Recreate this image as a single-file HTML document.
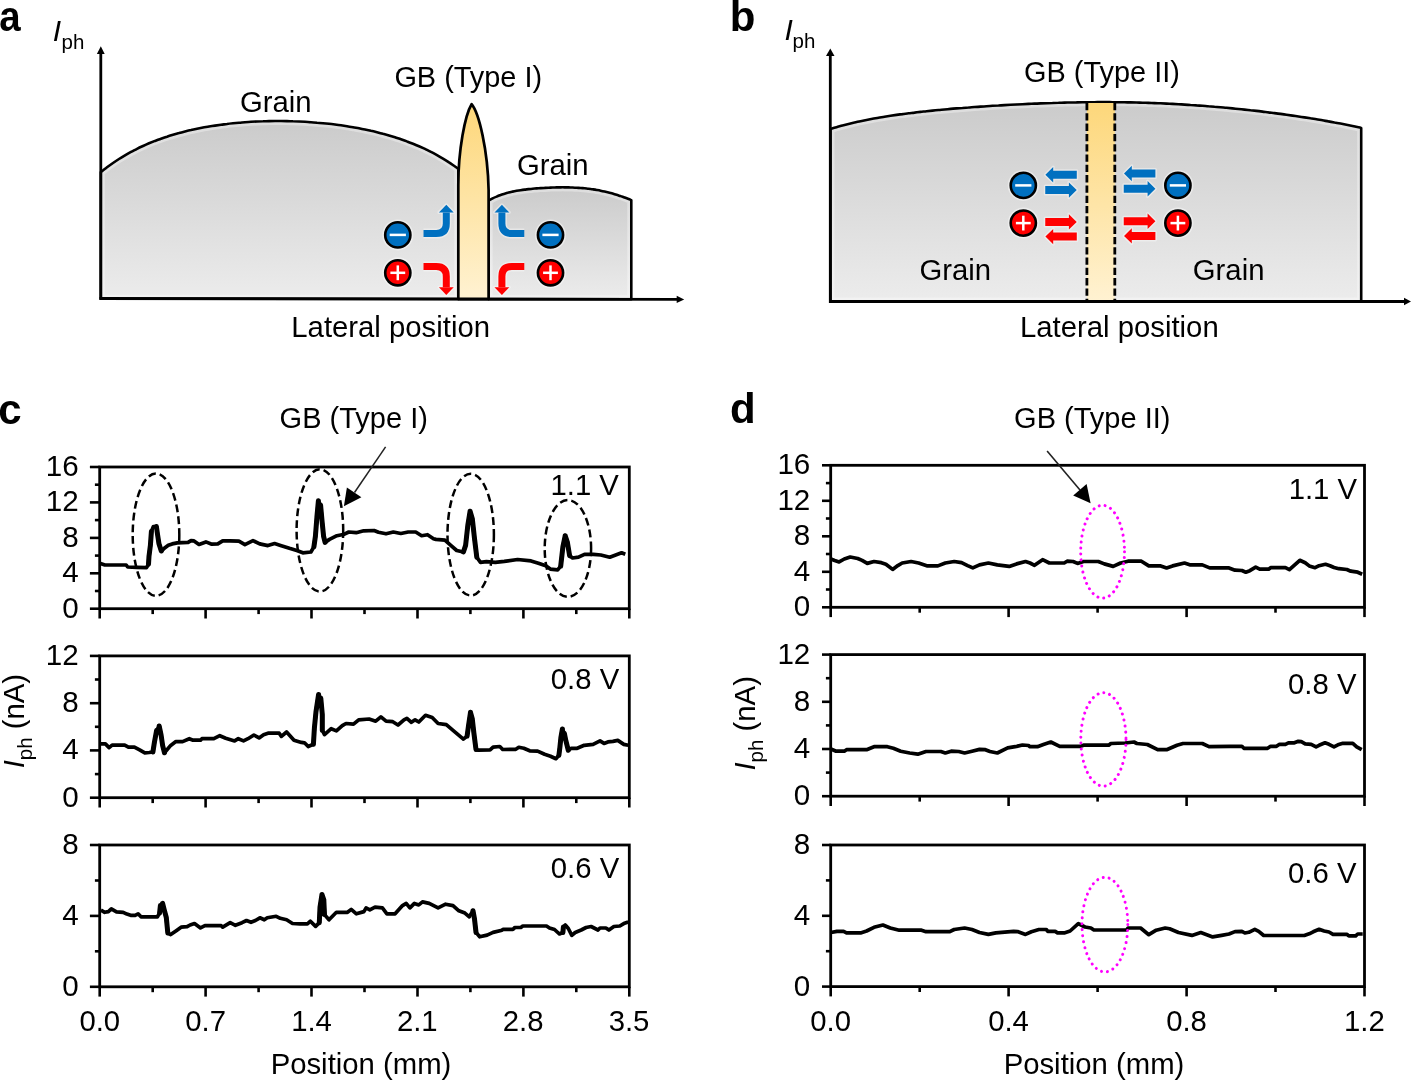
<!DOCTYPE html><html><head><meta charset="utf-8"><style>html,body{margin:0;padding:0;background:#fff;}svg{display:block;will-change:transform;}</style></head><body><svg width="1414" height="1080" viewBox="0 0 1414 1080">
<defs>
<linearGradient id="gg" x1="0" y1="0" x2="0" y2="1"><stop offset="0" stop-color="#cbcbcb"/><stop offset="1" stop-color="#ececec"/></linearGradient>
<linearGradient id="gy" x1="0" y1="0" x2="0" y2="1"><stop offset="0" stop-color="#fdd77a"/><stop offset="1" stop-color="#fff2d2"/></linearGradient>
</defs>
<rect width="1414" height="1080" fill="#fff"/>
<path d="M100.8,298.50 L100.8,172.1 C102.0,171.3 105.0,168.8 107.0,167.3 C109.0,165.8 111.0,164.4 113.0,163.0 C115.0,161.6 117.0,160.3 119.0,159.0 C121.0,157.7 123.0,156.5 125.0,155.3 C127.0,154.1 129.0,153.0 131.0,151.9 C133.0,150.9 135.0,149.8 137.0,148.8 C139.0,147.8 141.0,146.9 143.0,146.0 C145.0,145.1 147.0,144.2 149.0,143.3 C151.0,142.5 153.0,141.7 155.0,140.9 C157.0,140.2 159.0,139.4 161.0,138.7 C163.0,138.0 165.0,137.3 167.0,136.7 C169.0,136.0 171.0,135.4 173.0,134.8 C175.0,134.2 177.0,133.6 179.0,133.1 C181.0,132.5 183.0,132.0 185.0,131.5 C187.0,131.0 189.0,130.5 191.0,130.1 C193.0,129.6 195.0,129.2 197.0,128.8 C199.0,128.4 201.0,128.0 203.0,127.6 C205.0,127.2 207.0,126.9 209.0,126.5 C211.0,126.2 213.0,125.9 215.0,125.6 C217.0,125.3 219.0,125.0 221.0,124.7 C223.0,124.5 225.0,124.2 227.0,124.0 C229.0,123.7 231.0,123.5 233.0,123.3 C235.0,123.1 237.0,122.9 239.0,122.7 C241.0,122.5 243.0,122.4 245.0,122.2 C247.0,122.1 249.0,122.0 251.0,121.8 C253.0,121.7 255.0,121.6 257.0,121.5 C259.0,121.4 261.0,121.3 263.0,121.3 C265.0,121.2 267.0,121.2 269.0,121.1 C271.0,121.1 273.0,121.1 275.0,121.0 C277.0,121.0 279.0,121.0 281.0,121.0 C283.0,121.1 285.0,121.1 287.0,121.1 C289.0,121.2 291.0,121.2 293.0,121.3 C295.0,121.3 297.0,121.4 299.0,121.5 C301.0,121.6 303.0,121.7 305.0,121.8 C307.0,121.9 309.0,122.1 311.0,122.2 C313.0,122.3 315.0,122.5 317.0,122.7 C319.0,122.8 321.0,123.0 323.0,123.2 C325.0,123.4 327.0,123.6 329.0,123.8 C331.0,124.1 333.0,124.3 335.0,124.5 C337.0,124.8 339.0,125.1 341.0,125.3 C343.0,125.6 345.0,125.9 347.0,126.2 C349.0,126.6 351.0,126.9 353.0,127.2 C355.0,127.6 357.0,127.9 359.0,128.3 C361.0,128.7 363.0,129.1 365.0,129.5 C367.0,129.9 369.0,130.3 371.0,130.8 C373.0,131.2 375.0,131.7 377.0,132.2 C379.0,132.7 381.0,133.2 383.0,133.8 C385.0,134.3 387.0,134.8 389.0,135.4 C391.0,136.0 393.0,136.6 395.0,137.2 C397.0,137.9 399.0,138.5 401.0,139.2 C403.0,139.9 405.0,140.6 407.0,141.4 C409.0,142.1 411.0,142.9 413.0,143.7 C415.0,144.5 417.0,145.3 419.0,146.2 C421.0,147.1 423.0,148.0 425.0,148.9 C427.0,149.9 429.0,150.8 431.0,151.9 C433.0,152.9 435.0,154.0 437.0,155.1 C439.0,156.2 441.0,157.4 443.0,158.6 C445.0,159.8 447.0,161.0 449.0,162.4 C451.0,163.7 453.4,165.4 455.0,166.5 C456.6,167.6 457.8,168.5 458.3,168.9 L458.3,299.06 Z" fill="url(#gg)"/>
<path d="M100.8,298.50 L100.8,172.1 C102.0,171.3 105.0,168.8 107.0,167.3 C109.0,165.8 111.0,164.4 113.0,163.0 C115.0,161.6 117.0,160.3 119.0,159.0 C121.0,157.7 123.0,156.5 125.0,155.3 C127.0,154.1 129.0,153.0 131.0,151.9 C133.0,150.9 135.0,149.8 137.0,148.8 C139.0,147.8 141.0,146.9 143.0,146.0 C145.0,145.1 147.0,144.2 149.0,143.3 C151.0,142.5 153.0,141.7 155.0,140.9 C157.0,140.2 159.0,139.4 161.0,138.7 C163.0,138.0 165.0,137.3 167.0,136.7 C169.0,136.0 171.0,135.4 173.0,134.8 C175.0,134.2 177.0,133.6 179.0,133.1 C181.0,132.5 183.0,132.0 185.0,131.5 C187.0,131.0 189.0,130.5 191.0,130.1 C193.0,129.6 195.0,129.2 197.0,128.8 C199.0,128.4 201.0,128.0 203.0,127.6 C205.0,127.2 207.0,126.9 209.0,126.5 C211.0,126.2 213.0,125.9 215.0,125.6 C217.0,125.3 219.0,125.0 221.0,124.7 C223.0,124.5 225.0,124.2 227.0,124.0 C229.0,123.7 231.0,123.5 233.0,123.3 C235.0,123.1 237.0,122.9 239.0,122.7 C241.0,122.5 243.0,122.4 245.0,122.2 C247.0,122.1 249.0,122.0 251.0,121.8 C253.0,121.7 255.0,121.6 257.0,121.5 C259.0,121.4 261.0,121.3 263.0,121.3 C265.0,121.2 267.0,121.2 269.0,121.1 C271.0,121.1 273.0,121.1 275.0,121.0 C277.0,121.0 279.0,121.0 281.0,121.0 C283.0,121.1 285.0,121.1 287.0,121.1 C289.0,121.2 291.0,121.2 293.0,121.3 C295.0,121.3 297.0,121.4 299.0,121.5 C301.0,121.6 303.0,121.7 305.0,121.8 C307.0,121.9 309.0,122.1 311.0,122.2 C313.0,122.3 315.0,122.5 317.0,122.7 C319.0,122.8 321.0,123.0 323.0,123.2 C325.0,123.4 327.0,123.6 329.0,123.8 C331.0,124.1 333.0,124.3 335.0,124.5 C337.0,124.8 339.0,125.1 341.0,125.3 C343.0,125.6 345.0,125.9 347.0,126.2 C349.0,126.6 351.0,126.9 353.0,127.2 C355.0,127.6 357.0,127.9 359.0,128.3 C361.0,128.7 363.0,129.1 365.0,129.5 C367.0,129.9 369.0,130.3 371.0,130.8 C373.0,131.2 375.0,131.7 377.0,132.2 C379.0,132.7 381.0,133.2 383.0,133.8 C385.0,134.3 387.0,134.8 389.0,135.4 C391.0,136.0 393.0,136.6 395.0,137.2 C397.0,137.9 399.0,138.5 401.0,139.2 C403.0,139.9 405.0,140.6 407.0,141.4 C409.0,142.1 411.0,142.9 413.0,143.7 C415.0,144.5 417.0,145.3 419.0,146.2 C421.0,147.1 423.0,148.0 425.0,148.9 C427.0,149.9 429.0,150.8 431.0,151.9 C433.0,152.9 435.0,154.0 437.0,155.1 C439.0,156.2 441.0,157.4 443.0,158.6 C445.0,159.8 447.0,161.0 449.0,162.4 C451.0,163.7 453.4,165.4 455.0,166.5 C456.6,167.6 457.8,168.5 458.3,168.9 L458.3,299.06 Z" stroke="#fff" stroke-opacity="0.35" stroke-width="8" fill="none"/>
<path d="M100.8,298.50 L100.8,172.1 C102.0,171.3 105.0,168.8 107.0,167.3 C109.0,165.8 111.0,164.4 113.0,163.0 C115.0,161.6 117.0,160.3 119.0,159.0 C121.0,157.7 123.0,156.5 125.0,155.3 C127.0,154.1 129.0,153.0 131.0,151.9 C133.0,150.9 135.0,149.8 137.0,148.8 C139.0,147.8 141.0,146.9 143.0,146.0 C145.0,145.1 147.0,144.2 149.0,143.3 C151.0,142.5 153.0,141.7 155.0,140.9 C157.0,140.2 159.0,139.4 161.0,138.7 C163.0,138.0 165.0,137.3 167.0,136.7 C169.0,136.0 171.0,135.4 173.0,134.8 C175.0,134.2 177.0,133.6 179.0,133.1 C181.0,132.5 183.0,132.0 185.0,131.5 C187.0,131.0 189.0,130.5 191.0,130.1 C193.0,129.6 195.0,129.2 197.0,128.8 C199.0,128.4 201.0,128.0 203.0,127.6 C205.0,127.2 207.0,126.9 209.0,126.5 C211.0,126.2 213.0,125.9 215.0,125.6 C217.0,125.3 219.0,125.0 221.0,124.7 C223.0,124.5 225.0,124.2 227.0,124.0 C229.0,123.7 231.0,123.5 233.0,123.3 C235.0,123.1 237.0,122.9 239.0,122.7 C241.0,122.5 243.0,122.4 245.0,122.2 C247.0,122.1 249.0,122.0 251.0,121.8 C253.0,121.7 255.0,121.6 257.0,121.5 C259.0,121.4 261.0,121.3 263.0,121.3 C265.0,121.2 267.0,121.2 269.0,121.1 C271.0,121.1 273.0,121.1 275.0,121.0 C277.0,121.0 279.0,121.0 281.0,121.0 C283.0,121.1 285.0,121.1 287.0,121.1 C289.0,121.2 291.0,121.2 293.0,121.3 C295.0,121.3 297.0,121.4 299.0,121.5 C301.0,121.6 303.0,121.7 305.0,121.8 C307.0,121.9 309.0,122.1 311.0,122.2 C313.0,122.3 315.0,122.5 317.0,122.7 C319.0,122.8 321.0,123.0 323.0,123.2 C325.0,123.4 327.0,123.6 329.0,123.8 C331.0,124.1 333.0,124.3 335.0,124.5 C337.0,124.8 339.0,125.1 341.0,125.3 C343.0,125.6 345.0,125.9 347.0,126.2 C349.0,126.6 351.0,126.9 353.0,127.2 C355.0,127.6 357.0,127.9 359.0,128.3 C361.0,128.7 363.0,129.1 365.0,129.5 C367.0,129.9 369.0,130.3 371.0,130.8 C373.0,131.2 375.0,131.7 377.0,132.2 C379.0,132.7 381.0,133.2 383.0,133.8 C385.0,134.3 387.0,134.8 389.0,135.4 C391.0,136.0 393.0,136.6 395.0,137.2 C397.0,137.9 399.0,138.5 401.0,139.2 C403.0,139.9 405.0,140.6 407.0,141.4 C409.0,142.1 411.0,142.9 413.0,143.7 C415.0,144.5 417.0,145.3 419.0,146.2 C421.0,147.1 423.0,148.0 425.0,148.9 C427.0,149.9 429.0,150.8 431.0,151.9 C433.0,152.9 435.0,154.0 437.0,155.1 C439.0,156.2 441.0,157.4 443.0,158.6 C445.0,159.8 447.0,161.0 449.0,162.4 C451.0,163.7 453.4,165.4 455.0,166.5 C456.6,167.6 457.8,168.5 458.3,168.9 L458.3,299.06 Z" fill="none" stroke="#000" stroke-width="2.6" stroke-linejoin="round"/>
<path d="M488.6,299.10 L488.6,200.6 C489.3,200.2 491.3,199.1 492.6,198.4 C493.9,197.7 495.3,197.1 496.6,196.6 C497.9,196.0 499.3,195.5 500.6,195.0 C501.9,194.5 503.3,194.1 504.6,193.7 C505.9,193.3 507.3,192.9 508.6,192.6 C509.9,192.2 511.3,191.9 512.6,191.6 C513.9,191.4 515.3,191.1 516.6,190.8 C517.9,190.6 519.3,190.4 520.6,190.2 C521.9,190.0 523.3,189.8 524.6,189.6 C525.9,189.4 527.3,189.3 528.6,189.1 C529.9,189.0 531.3,188.9 532.6,188.7 C533.9,188.6 535.3,188.5 536.6,188.4 C537.9,188.3 539.3,188.2 540.6,188.1 C541.9,188.0 543.3,187.9 544.6,187.9 C545.9,187.8 547.3,187.7 548.6,187.7 C549.9,187.6 551.3,187.6 552.6,187.5 C553.9,187.5 555.3,187.4 556.6,187.4 C557.9,187.4 559.3,187.4 560.6,187.4 C561.9,187.3 563.3,187.3 564.6,187.4 C565.9,187.4 567.3,187.4 568.6,187.4 C569.9,187.4 571.3,187.5 572.6,187.5 C573.9,187.6 575.3,187.7 576.6,187.7 C577.9,187.8 579.3,187.9 580.6,188.0 C581.9,188.1 583.3,188.2 584.6,188.3 C585.9,188.5 587.3,188.6 588.6,188.8 C589.9,189.0 591.3,189.1 592.6,189.3 C593.9,189.5 595.3,189.7 596.6,190.0 C597.9,190.2 599.3,190.4 600.6,190.7 C601.9,191.0 603.3,191.3 604.6,191.6 C605.9,191.9 607.3,192.2 608.6,192.5 C609.9,192.9 611.3,193.2 612.6,193.6 C613.9,194.0 615.3,194.4 616.6,194.8 C617.9,195.2 619.3,195.7 620.6,196.1 C621.9,196.6 623.3,197.0 624.6,197.5 C625.9,198.0 627.5,198.6 628.6,199.0 C629.7,199.4 630.8,199.9 631.3,200.1 L631.3,299.32 Z" fill="url(#gg)"/>
<path d="M488.6,299.10 L488.6,200.6 C489.3,200.2 491.3,199.1 492.6,198.4 C493.9,197.7 495.3,197.1 496.6,196.6 C497.9,196.0 499.3,195.5 500.6,195.0 C501.9,194.5 503.3,194.1 504.6,193.7 C505.9,193.3 507.3,192.9 508.6,192.6 C509.9,192.2 511.3,191.9 512.6,191.6 C513.9,191.4 515.3,191.1 516.6,190.8 C517.9,190.6 519.3,190.4 520.6,190.2 C521.9,190.0 523.3,189.8 524.6,189.6 C525.9,189.4 527.3,189.3 528.6,189.1 C529.9,189.0 531.3,188.9 532.6,188.7 C533.9,188.6 535.3,188.5 536.6,188.4 C537.9,188.3 539.3,188.2 540.6,188.1 C541.9,188.0 543.3,187.9 544.6,187.9 C545.9,187.8 547.3,187.7 548.6,187.7 C549.9,187.6 551.3,187.6 552.6,187.5 C553.9,187.5 555.3,187.4 556.6,187.4 C557.9,187.4 559.3,187.4 560.6,187.4 C561.9,187.3 563.3,187.3 564.6,187.4 C565.9,187.4 567.3,187.4 568.6,187.4 C569.9,187.4 571.3,187.5 572.6,187.5 C573.9,187.6 575.3,187.7 576.6,187.7 C577.9,187.8 579.3,187.9 580.6,188.0 C581.9,188.1 583.3,188.2 584.6,188.3 C585.9,188.5 587.3,188.6 588.6,188.8 C589.9,189.0 591.3,189.1 592.6,189.3 C593.9,189.5 595.3,189.7 596.6,190.0 C597.9,190.2 599.3,190.4 600.6,190.7 C601.9,191.0 603.3,191.3 604.6,191.6 C605.9,191.9 607.3,192.2 608.6,192.5 C609.9,192.9 611.3,193.2 612.6,193.6 C613.9,194.0 615.3,194.4 616.6,194.8 C617.9,195.2 619.3,195.7 620.6,196.1 C621.9,196.6 623.3,197.0 624.6,197.5 C625.9,198.0 627.5,198.6 628.6,199.0 C629.7,199.4 630.8,199.9 631.3,200.1 L631.3,299.32 Z" stroke="#fff" stroke-opacity="0.35" stroke-width="8" fill="none"/>
<path d="M488.6,299.10 L488.6,200.6 C489.3,200.2 491.3,199.1 492.6,198.4 C493.9,197.7 495.3,197.1 496.6,196.6 C497.9,196.0 499.3,195.5 500.6,195.0 C501.9,194.5 503.3,194.1 504.6,193.7 C505.9,193.3 507.3,192.9 508.6,192.6 C509.9,192.2 511.3,191.9 512.6,191.6 C513.9,191.4 515.3,191.1 516.6,190.8 C517.9,190.6 519.3,190.4 520.6,190.2 C521.9,190.0 523.3,189.8 524.6,189.6 C525.9,189.4 527.3,189.3 528.6,189.1 C529.9,189.0 531.3,188.9 532.6,188.7 C533.9,188.6 535.3,188.5 536.6,188.4 C537.9,188.3 539.3,188.2 540.6,188.1 C541.9,188.0 543.3,187.9 544.6,187.9 C545.9,187.8 547.3,187.7 548.6,187.7 C549.9,187.6 551.3,187.6 552.6,187.5 C553.9,187.5 555.3,187.4 556.6,187.4 C557.9,187.4 559.3,187.4 560.6,187.4 C561.9,187.3 563.3,187.3 564.6,187.4 C565.9,187.4 567.3,187.4 568.6,187.4 C569.9,187.4 571.3,187.5 572.6,187.5 C573.9,187.6 575.3,187.7 576.6,187.7 C577.9,187.8 579.3,187.9 580.6,188.0 C581.9,188.1 583.3,188.2 584.6,188.3 C585.9,188.5 587.3,188.6 588.6,188.8 C589.9,189.0 591.3,189.1 592.6,189.3 C593.9,189.5 595.3,189.7 596.6,190.0 C597.9,190.2 599.3,190.4 600.6,190.7 C601.9,191.0 603.3,191.3 604.6,191.6 C605.9,191.9 607.3,192.2 608.6,192.5 C609.9,192.9 611.3,193.2 612.6,193.6 C613.9,194.0 615.3,194.4 616.6,194.8 C617.9,195.2 619.3,195.7 620.6,196.1 C621.9,196.6 623.3,197.0 624.6,197.5 C625.9,198.0 627.5,198.6 628.6,199.0 C629.7,199.4 630.8,199.9 631.3,200.1 L631.3,299.32 Z" fill="none" stroke="#000" stroke-width="2.6" stroke-linejoin="round"/>
<path d="M458.3,299.06 L458.3,185 C458.3,150 465,115 471.6,104.2 C479,113 487.8,150 488.6,190 L488.6,299.10 Z" fill="url(#gy)" stroke="#000" stroke-width="2.7" stroke-linejoin="round"/>
<line x1="100.8" y1="299.80" x2="100.8" y2="52" stroke="#000" stroke-width="2.8"/>
<path d="M96.9,54 L100.8,46.3 L104.7,54 Z" fill="#000"/>
<line x1="99.5" y1="298.50" x2="678" y2="299.40" stroke="#000" stroke-width="2.8"/>
<path d="M676.7,295.69 L684.2,299.41 L676.7,303.09 Z" fill="#000"/>
<circle cx="397.8" cy="234.9" r="15.5" fill="#fff" fill-opacity="0.45"/>
<circle cx="397.8" cy="234.9" r="12.6" fill="#0070c0" stroke="#000" stroke-width="2.6"/>
<rect x="389.70" y="233.65" width="16.2" height="2.5" fill="#fff"/>
<circle cx="397.8" cy="272.8" r="15.5" fill="#fff" fill-opacity="0.45"/>
<circle cx="397.8" cy="272.8" r="12.6" fill="#ff0000" stroke="#000" stroke-width="2.6"/>
<rect x="390.40" y="271.55" width="14.8" height="2.5" fill="#fff"/>
<rect x="396.55" y="265.40" width="2.5" height="14.8" fill="#fff"/>
<circle cx="550.5" cy="234.9" r="15.5" fill="#fff" fill-opacity="0.45"/>
<circle cx="550.5" cy="234.9" r="12.6" fill="#0070c0" stroke="#000" stroke-width="2.6"/>
<rect x="542.40" y="233.65" width="16.2" height="2.5" fill="#fff"/>
<circle cx="550.5" cy="272.8" r="15.5" fill="#fff" fill-opacity="0.45"/>
<circle cx="550.5" cy="272.8" r="12.6" fill="#ff0000" stroke="#000" stroke-width="2.6"/>
<rect x="543.10" y="271.55" width="14.8" height="2.5" fill="#fff"/>
<rect x="549.25" y="265.40" width="2.5" height="14.8" fill="#fff"/>
<path d="M423.5,233.6 L436.3,233.6 Q446.3,233.6 446.3,223.6 L446.3,212.4" fill="none" stroke="#fff" stroke-opacity="0.4" stroke-width="10"/>
<path d="M438.90000000000003,212.4 L446.3,204.8 L453.7,212.4 Z" fill="#fff" fill-opacity="0.4" stroke="#fff" stroke-opacity="0.4" stroke-width="3" stroke-linejoin="round"/>
<path d="M423.5,233.6 L436.3,233.6 Q446.3,233.6 446.3,223.6 L446.3,212.4" fill="none" stroke="#0070c0" stroke-width="7"/>
<path d="M438.90000000000003,212.4 L446.3,204.8 L453.7,212.4 Z" fill="#0070c0"/>
<path d="M423.5,266.4 L436.3,266.4 Q446.3,266.4 446.3,276.4 L446.3,287.29999999999995" fill="none" stroke="#fff" stroke-opacity="0.4" stroke-width="10"/>
<path d="M438.90000000000003,287.29999999999995 L446.3,294.9 L453.7,287.29999999999995 Z" fill="#fff" fill-opacity="0.4" stroke="#fff" stroke-opacity="0.4" stroke-width="3" stroke-linejoin="round"/>
<path d="M423.5,266.4 L436.3,266.4 Q446.3,266.4 446.3,276.4 L446.3,287.29999999999995" fill="none" stroke="#ff0000" stroke-width="7"/>
<path d="M438.90000000000003,287.29999999999995 L446.3,294.9 L453.7,287.29999999999995 Z" fill="#ff0000"/>
<path d="M524.3,233.6 L511.9,233.6 Q501.9,233.6 501.9,223.6 L501.9,212.4" fill="none" stroke="#fff" stroke-opacity="0.4" stroke-width="10"/>
<path d="M494.5,212.4 L501.9,204.8 L509.29999999999995,212.4 Z" fill="#fff" fill-opacity="0.4" stroke="#fff" stroke-opacity="0.4" stroke-width="3" stroke-linejoin="round"/>
<path d="M524.3,233.6 L511.9,233.6 Q501.9,233.6 501.9,223.6 L501.9,212.4" fill="none" stroke="#0070c0" stroke-width="7"/>
<path d="M494.5,212.4 L501.9,204.8 L509.29999999999995,212.4 Z" fill="#0070c0"/>
<path d="M524.3,266.4 L511.9,266.4 Q501.9,266.4 501.9,276.4 L501.9,287.29999999999995" fill="none" stroke="#fff" stroke-opacity="0.4" stroke-width="10"/>
<path d="M494.5,287.29999999999995 L501.9,294.9 L509.29999999999995,287.29999999999995 Z" fill="#fff" fill-opacity="0.4" stroke="#fff" stroke-opacity="0.4" stroke-width="3" stroke-linejoin="round"/>
<path d="M524.3,266.4 L511.9,266.4 Q501.9,266.4 501.9,276.4 L501.9,287.29999999999995" fill="none" stroke="#ff0000" stroke-width="7"/>
<path d="M494.5,287.29999999999995 L501.9,294.9 L509.29999999999995,287.29999999999995 Z" fill="#ff0000"/>
<text transform="translate(-0.75,31) scale(0.915,1)" font-size="42" font-weight="bold" font-family="Liberation Sans, sans-serif">a</text>
<text x="52.7" y="41.2" font-size="30" font-style="italic" font-family="Liberation Sans, sans-serif">I</text>
<text x="61.5" y="49" font-size="20.5" font-family="Liberation Sans, sans-serif">ph</text>
<text x="240" y="112.2" font-size="29.3" font-family="Liberation Sans, sans-serif">Grain</text>
<text x="394.4" y="86.9" font-size="28.9" font-family="Liberation Sans, sans-serif">GB (Type I)</text>
<text x="517" y="175.3" font-size="29.3" font-family="Liberation Sans, sans-serif">Grain</text>
<text x="291.3" y="337.3" font-size="29.3" font-family="Liberation Sans, sans-serif">Lateral position</text>
<path d="M830.5,301.5 L830.5,129.0 C831.5,128.7 834.5,127.8 836.5,127.2 C838.5,126.6 840.5,126.1 842.5,125.5 C844.5,125.0 846.5,124.5 848.5,124.0 C850.5,123.5 852.5,123.0 854.5,122.5 C856.5,122.1 858.5,121.6 860.5,121.2 C862.5,120.8 864.5,120.4 866.5,120.0 C868.5,119.6 870.5,119.2 872.5,118.8 C874.5,118.4 876.5,118.1 878.5,117.7 C880.5,117.4 882.5,117.0 884.5,116.7 C886.5,116.4 888.5,116.1 890.5,115.8 C892.5,115.5 894.5,115.2 896.5,114.9 C898.5,114.6 900.5,114.3 902.5,114.1 C904.5,113.8 906.5,113.6 908.5,113.3 C910.5,113.1 912.5,112.8 914.5,112.6 C916.5,112.3 918.5,112.1 920.5,111.9 C922.5,111.7 924.5,111.4 926.5,111.2 C928.5,111.0 930.5,110.8 932.5,110.6 C934.5,110.4 936.5,110.2 938.5,110.0 C940.5,109.8 942.5,109.7 944.5,109.5 C946.5,109.3 948.5,109.1 950.5,108.9 C952.5,108.8 954.5,108.6 956.5,108.4 C958.5,108.3 960.5,108.1 962.5,108.0 C964.5,107.8 966.5,107.6 968.5,107.5 C970.5,107.3 972.5,107.2 974.5,107.0 C976.5,106.9 978.5,106.8 980.5,106.6 C982.5,106.5 984.5,106.4 986.5,106.2 C988.5,106.1 990.5,106.0 992.5,105.8 C994.5,105.7 996.5,105.6 998.5,105.5 C1000.5,105.3 1002.5,105.2 1004.5,105.1 C1006.5,105.0 1008.5,104.9 1010.5,104.8 C1012.5,104.7 1014.5,104.6 1016.5,104.5 C1018.5,104.4 1020.5,104.3 1022.5,104.2 C1024.5,104.1 1026.5,104.0 1028.5,103.9 C1030.5,103.8 1032.5,103.7 1034.5,103.6 C1036.5,103.6 1038.5,103.5 1040.5,103.4 C1042.5,103.3 1044.5,103.2 1046.5,103.2 C1048.5,103.1 1050.5,103.0 1052.5,103.0 C1054.5,102.9 1056.5,102.8 1058.5,102.8 C1060.5,102.7 1062.5,102.7 1064.5,102.6 C1066.5,102.6 1068.5,102.5 1070.5,102.5 C1072.5,102.4 1074.5,102.4 1076.5,102.4 C1078.5,102.3 1080.5,102.3 1082.5,102.3 C1084.5,102.3 1086.5,102.2 1088.5,102.2 C1090.5,102.2 1092.5,102.2 1094.5,102.2 C1096.5,102.2 1098.5,102.1 1100.5,102.1 C1102.5,102.1 1104.5,102.1 1106.5,102.1 C1108.5,102.1 1110.5,102.2 1112.5,102.2 C1114.5,102.2 1116.5,102.2 1118.5,102.2 C1120.5,102.2 1122.5,102.3 1124.5,102.3 C1126.5,102.3 1128.5,102.4 1130.5,102.4 C1132.5,102.5 1134.5,102.5 1136.5,102.5 C1138.5,102.6 1140.5,102.6 1142.5,102.7 C1144.5,102.8 1146.5,102.8 1148.5,102.9 C1150.5,103.0 1152.5,103.0 1154.5,103.1 C1156.5,103.2 1158.5,103.3 1160.5,103.3 C1162.5,103.4 1164.5,103.5 1166.5,103.6 C1168.5,103.7 1170.5,103.8 1172.5,103.9 C1174.5,104.0 1176.5,104.1 1178.5,104.2 C1180.5,104.3 1182.5,104.5 1184.5,104.6 C1186.5,104.7 1188.5,104.8 1190.5,105.0 C1192.5,105.1 1194.5,105.2 1196.5,105.4 C1198.5,105.5 1200.5,105.7 1202.5,105.8 C1204.5,106.0 1206.5,106.1 1208.5,106.3 C1210.5,106.4 1212.5,106.6 1214.5,106.8 C1216.5,106.9 1218.5,107.1 1220.5,107.3 C1222.5,107.5 1224.5,107.6 1226.5,107.8 C1228.5,108.0 1230.5,108.2 1232.5,108.4 C1234.5,108.6 1236.5,108.8 1238.5,109.0 C1240.5,109.2 1242.5,109.4 1244.5,109.6 C1246.5,109.8 1248.5,110.0 1250.5,110.3 C1252.5,110.5 1254.5,110.7 1256.5,110.9 C1258.5,111.2 1260.5,111.4 1262.5,111.6 C1264.5,111.9 1266.5,112.1 1268.5,112.4 C1270.5,112.6 1272.5,112.9 1274.5,113.1 C1276.5,113.4 1278.5,113.7 1280.5,113.9 C1282.5,114.2 1284.5,114.5 1286.5,114.7 C1288.5,115.0 1290.5,115.3 1292.5,115.6 C1294.5,115.9 1296.5,116.2 1298.5,116.5 C1300.5,116.8 1302.5,117.1 1304.5,117.4 C1306.5,117.7 1308.5,118.0 1310.5,118.3 C1312.5,118.6 1314.5,119.0 1316.5,119.3 C1318.5,119.6 1320.5,120.0 1322.5,120.3 C1324.5,120.7 1326.5,121.0 1328.5,121.4 C1330.5,121.7 1332.5,122.1 1334.5,122.5 C1336.5,122.8 1338.5,123.2 1340.5,123.6 C1342.5,124.0 1344.5,124.4 1346.5,124.8 C1348.5,125.2 1350.5,125.6 1352.5,126.0 C1354.5,126.5 1357.0,127.0 1358.5,127.3 C1360.0,127.6 1360.8,127.8 1361.2,127.9 L1361.2,301.5 Z" fill="url(#gg)"/>
<path d="M830.5,301.5 L830.5,129.0 C831.5,128.7 834.5,127.8 836.5,127.2 C838.5,126.6 840.5,126.1 842.5,125.5 C844.5,125.0 846.5,124.5 848.5,124.0 C850.5,123.5 852.5,123.0 854.5,122.5 C856.5,122.1 858.5,121.6 860.5,121.2 C862.5,120.8 864.5,120.4 866.5,120.0 C868.5,119.6 870.5,119.2 872.5,118.8 C874.5,118.4 876.5,118.1 878.5,117.7 C880.5,117.4 882.5,117.0 884.5,116.7 C886.5,116.4 888.5,116.1 890.5,115.8 C892.5,115.5 894.5,115.2 896.5,114.9 C898.5,114.6 900.5,114.3 902.5,114.1 C904.5,113.8 906.5,113.6 908.5,113.3 C910.5,113.1 912.5,112.8 914.5,112.6 C916.5,112.3 918.5,112.1 920.5,111.9 C922.5,111.7 924.5,111.4 926.5,111.2 C928.5,111.0 930.5,110.8 932.5,110.6 C934.5,110.4 936.5,110.2 938.5,110.0 C940.5,109.8 942.5,109.7 944.5,109.5 C946.5,109.3 948.5,109.1 950.5,108.9 C952.5,108.8 954.5,108.6 956.5,108.4 C958.5,108.3 960.5,108.1 962.5,108.0 C964.5,107.8 966.5,107.6 968.5,107.5 C970.5,107.3 972.5,107.2 974.5,107.0 C976.5,106.9 978.5,106.8 980.5,106.6 C982.5,106.5 984.5,106.4 986.5,106.2 C988.5,106.1 990.5,106.0 992.5,105.8 C994.5,105.7 996.5,105.6 998.5,105.5 C1000.5,105.3 1002.5,105.2 1004.5,105.1 C1006.5,105.0 1008.5,104.9 1010.5,104.8 C1012.5,104.7 1014.5,104.6 1016.5,104.5 C1018.5,104.4 1020.5,104.3 1022.5,104.2 C1024.5,104.1 1026.5,104.0 1028.5,103.9 C1030.5,103.8 1032.5,103.7 1034.5,103.6 C1036.5,103.6 1038.5,103.5 1040.5,103.4 C1042.5,103.3 1044.5,103.2 1046.5,103.2 C1048.5,103.1 1050.5,103.0 1052.5,103.0 C1054.5,102.9 1056.5,102.8 1058.5,102.8 C1060.5,102.7 1062.5,102.7 1064.5,102.6 C1066.5,102.6 1068.5,102.5 1070.5,102.5 C1072.5,102.4 1074.5,102.4 1076.5,102.4 C1078.5,102.3 1080.5,102.3 1082.5,102.3 C1084.5,102.3 1086.5,102.2 1088.5,102.2 C1090.5,102.2 1092.5,102.2 1094.5,102.2 C1096.5,102.2 1098.5,102.1 1100.5,102.1 C1102.5,102.1 1104.5,102.1 1106.5,102.1 C1108.5,102.1 1110.5,102.2 1112.5,102.2 C1114.5,102.2 1116.5,102.2 1118.5,102.2 C1120.5,102.2 1122.5,102.3 1124.5,102.3 C1126.5,102.3 1128.5,102.4 1130.5,102.4 C1132.5,102.5 1134.5,102.5 1136.5,102.5 C1138.5,102.6 1140.5,102.6 1142.5,102.7 C1144.5,102.8 1146.5,102.8 1148.5,102.9 C1150.5,103.0 1152.5,103.0 1154.5,103.1 C1156.5,103.2 1158.5,103.3 1160.5,103.3 C1162.5,103.4 1164.5,103.5 1166.5,103.6 C1168.5,103.7 1170.5,103.8 1172.5,103.9 C1174.5,104.0 1176.5,104.1 1178.5,104.2 C1180.5,104.3 1182.5,104.5 1184.5,104.6 C1186.5,104.7 1188.5,104.8 1190.5,105.0 C1192.5,105.1 1194.5,105.2 1196.5,105.4 C1198.5,105.5 1200.5,105.7 1202.5,105.8 C1204.5,106.0 1206.5,106.1 1208.5,106.3 C1210.5,106.4 1212.5,106.6 1214.5,106.8 C1216.5,106.9 1218.5,107.1 1220.5,107.3 C1222.5,107.5 1224.5,107.6 1226.5,107.8 C1228.5,108.0 1230.5,108.2 1232.5,108.4 C1234.5,108.6 1236.5,108.8 1238.5,109.0 C1240.5,109.2 1242.5,109.4 1244.5,109.6 C1246.5,109.8 1248.5,110.0 1250.5,110.3 C1252.5,110.5 1254.5,110.7 1256.5,110.9 C1258.5,111.2 1260.5,111.4 1262.5,111.6 C1264.5,111.9 1266.5,112.1 1268.5,112.4 C1270.5,112.6 1272.5,112.9 1274.5,113.1 C1276.5,113.4 1278.5,113.7 1280.5,113.9 C1282.5,114.2 1284.5,114.5 1286.5,114.7 C1288.5,115.0 1290.5,115.3 1292.5,115.6 C1294.5,115.9 1296.5,116.2 1298.5,116.5 C1300.5,116.8 1302.5,117.1 1304.5,117.4 C1306.5,117.7 1308.5,118.0 1310.5,118.3 C1312.5,118.6 1314.5,119.0 1316.5,119.3 C1318.5,119.6 1320.5,120.0 1322.5,120.3 C1324.5,120.7 1326.5,121.0 1328.5,121.4 C1330.5,121.7 1332.5,122.1 1334.5,122.5 C1336.5,122.8 1338.5,123.2 1340.5,123.6 C1342.5,124.0 1344.5,124.4 1346.5,124.8 C1348.5,125.2 1350.5,125.6 1352.5,126.0 C1354.5,126.5 1357.0,127.0 1358.5,127.3 C1360.0,127.6 1360.8,127.8 1361.2,127.9 L1361.2,301.5 Z" stroke="#fff" stroke-opacity="0.35" stroke-width="8" fill="none"/>
<path d="M830.5,301.5 L830.5,129.0 C831.5,128.7 834.5,127.8 836.5,127.2 C838.5,126.6 840.5,126.1 842.5,125.5 C844.5,125.0 846.5,124.5 848.5,124.0 C850.5,123.5 852.5,123.0 854.5,122.5 C856.5,122.1 858.5,121.6 860.5,121.2 C862.5,120.8 864.5,120.4 866.5,120.0 C868.5,119.6 870.5,119.2 872.5,118.8 C874.5,118.4 876.5,118.1 878.5,117.7 C880.5,117.4 882.5,117.0 884.5,116.7 C886.5,116.4 888.5,116.1 890.5,115.8 C892.5,115.5 894.5,115.2 896.5,114.9 C898.5,114.6 900.5,114.3 902.5,114.1 C904.5,113.8 906.5,113.6 908.5,113.3 C910.5,113.1 912.5,112.8 914.5,112.6 C916.5,112.3 918.5,112.1 920.5,111.9 C922.5,111.7 924.5,111.4 926.5,111.2 C928.5,111.0 930.5,110.8 932.5,110.6 C934.5,110.4 936.5,110.2 938.5,110.0 C940.5,109.8 942.5,109.7 944.5,109.5 C946.5,109.3 948.5,109.1 950.5,108.9 C952.5,108.8 954.5,108.6 956.5,108.4 C958.5,108.3 960.5,108.1 962.5,108.0 C964.5,107.8 966.5,107.6 968.5,107.5 C970.5,107.3 972.5,107.2 974.5,107.0 C976.5,106.9 978.5,106.8 980.5,106.6 C982.5,106.5 984.5,106.4 986.5,106.2 C988.5,106.1 990.5,106.0 992.5,105.8 C994.5,105.7 996.5,105.6 998.5,105.5 C1000.5,105.3 1002.5,105.2 1004.5,105.1 C1006.5,105.0 1008.5,104.9 1010.5,104.8 C1012.5,104.7 1014.5,104.6 1016.5,104.5 C1018.5,104.4 1020.5,104.3 1022.5,104.2 C1024.5,104.1 1026.5,104.0 1028.5,103.9 C1030.5,103.8 1032.5,103.7 1034.5,103.6 C1036.5,103.6 1038.5,103.5 1040.5,103.4 C1042.5,103.3 1044.5,103.2 1046.5,103.2 C1048.5,103.1 1050.5,103.0 1052.5,103.0 C1054.5,102.9 1056.5,102.8 1058.5,102.8 C1060.5,102.7 1062.5,102.7 1064.5,102.6 C1066.5,102.6 1068.5,102.5 1070.5,102.5 C1072.5,102.4 1074.5,102.4 1076.5,102.4 C1078.5,102.3 1080.5,102.3 1082.5,102.3 C1084.5,102.3 1086.5,102.2 1088.5,102.2 C1090.5,102.2 1092.5,102.2 1094.5,102.2 C1096.5,102.2 1098.5,102.1 1100.5,102.1 C1102.5,102.1 1104.5,102.1 1106.5,102.1 C1108.5,102.1 1110.5,102.2 1112.5,102.2 C1114.5,102.2 1116.5,102.2 1118.5,102.2 C1120.5,102.2 1122.5,102.3 1124.5,102.3 C1126.5,102.3 1128.5,102.4 1130.5,102.4 C1132.5,102.5 1134.5,102.5 1136.5,102.5 C1138.5,102.6 1140.5,102.6 1142.5,102.7 C1144.5,102.8 1146.5,102.8 1148.5,102.9 C1150.5,103.0 1152.5,103.0 1154.5,103.1 C1156.5,103.2 1158.5,103.3 1160.5,103.3 C1162.5,103.4 1164.5,103.5 1166.5,103.6 C1168.5,103.7 1170.5,103.8 1172.5,103.9 C1174.5,104.0 1176.5,104.1 1178.5,104.2 C1180.5,104.3 1182.5,104.5 1184.5,104.6 C1186.5,104.7 1188.5,104.8 1190.5,105.0 C1192.5,105.1 1194.5,105.2 1196.5,105.4 C1198.5,105.5 1200.5,105.7 1202.5,105.8 C1204.5,106.0 1206.5,106.1 1208.5,106.3 C1210.5,106.4 1212.5,106.6 1214.5,106.8 C1216.5,106.9 1218.5,107.1 1220.5,107.3 C1222.5,107.5 1224.5,107.6 1226.5,107.8 C1228.5,108.0 1230.5,108.2 1232.5,108.4 C1234.5,108.6 1236.5,108.8 1238.5,109.0 C1240.5,109.2 1242.5,109.4 1244.5,109.6 C1246.5,109.8 1248.5,110.0 1250.5,110.3 C1252.5,110.5 1254.5,110.7 1256.5,110.9 C1258.5,111.2 1260.5,111.4 1262.5,111.6 C1264.5,111.9 1266.5,112.1 1268.5,112.4 C1270.5,112.6 1272.5,112.9 1274.5,113.1 C1276.5,113.4 1278.5,113.7 1280.5,113.9 C1282.5,114.2 1284.5,114.5 1286.5,114.7 C1288.5,115.0 1290.5,115.3 1292.5,115.6 C1294.5,115.9 1296.5,116.2 1298.5,116.5 C1300.5,116.8 1302.5,117.1 1304.5,117.4 C1306.5,117.7 1308.5,118.0 1310.5,118.3 C1312.5,118.6 1314.5,119.0 1316.5,119.3 C1318.5,119.6 1320.5,120.0 1322.5,120.3 C1324.5,120.7 1326.5,121.0 1328.5,121.4 C1330.5,121.7 1332.5,122.1 1334.5,122.5 C1336.5,122.8 1338.5,123.2 1340.5,123.6 C1342.5,124.0 1344.5,124.4 1346.5,124.8 C1348.5,125.2 1350.5,125.6 1352.5,126.0 C1354.5,126.5 1357.0,127.0 1358.5,127.3 C1360.0,127.6 1360.8,127.8 1361.2,127.9 L1361.2,301.5 Z" fill="none" stroke="#000" stroke-width="2.6" stroke-linejoin="round"/>
<rect x="1086.9" y="103" width="27.9" height="198.5" fill="url(#gy)"/>
<line x1="1086.9" y1="103" x2="1086.9" y2="301.5" stroke="#000" stroke-width="2.8" stroke-dasharray="7.3,3"/>
<line x1="1114.8" y1="103" x2="1114.8" y2="301.5" stroke="#000" stroke-width="2.8" stroke-dasharray="7.3,3"/>
<line x1="830.3" y1="303" x2="830.3" y2="55" stroke="#000" stroke-width="2.8"/>
<path d="M826,56 L830.3,48.6 L834.5,56 Z" fill="#000"/>
<line x1="829" y1="301.5" x2="1406" y2="301.5" stroke="#000" stroke-width="2.8"/>
<path d="M1404,297.8 L1411,301.5 L1404,305.2 Z" fill="#000"/>
<circle cx="1023.3" cy="185.4" r="15.5" fill="#fff" fill-opacity="0.45"/>
<circle cx="1023.3" cy="185.4" r="12.6" fill="#0070c0" stroke="#000" stroke-width="2.6"/>
<rect x="1015.20" y="184.15" width="16.2" height="2.5" fill="#fff"/>
<circle cx="1023.3" cy="223.1" r="15.5" fill="#fff" fill-opacity="0.45"/>
<circle cx="1023.3" cy="223.1" r="12.6" fill="#ff0000" stroke="#000" stroke-width="2.6"/>
<rect x="1015.90" y="221.85" width="14.8" height="2.5" fill="#fff"/>
<rect x="1022.05" y="215.70" width="2.5" height="14.8" fill="#fff"/>
<circle cx="1177.9" cy="185.4" r="15.5" fill="#fff" fill-opacity="0.45"/>
<circle cx="1177.9" cy="185.4" r="12.6" fill="#0070c0" stroke="#000" stroke-width="2.6"/>
<rect x="1169.80" y="184.15" width="16.2" height="2.5" fill="#fff"/>
<circle cx="1177.9" cy="223.1" r="15.5" fill="#fff" fill-opacity="0.45"/>
<circle cx="1177.9" cy="223.1" r="12.6" fill="#ff0000" stroke="#000" stroke-width="2.6"/>
<rect x="1170.50" y="221.85" width="14.8" height="2.5" fill="#fff"/>
<rect x="1176.65" y="215.70" width="2.5" height="14.8" fill="#fff"/>
<path d="M1045.4,174.8 L1053.2,167.10000000000002 L1053.2,170.8 L1076.8,170.8 L1076.8,178.8 L1053.2,178.8 L1053.2,182.5 Z" fill="#fff" fill-opacity="0.4" stroke="#fff" stroke-opacity="0.4" stroke-width="3" stroke-linejoin="round"/>
<path d="M1045.4,174.8 L1053.2,167.10000000000002 L1053.2,170.8 L1076.8,170.8 L1076.8,178.8 L1053.2,178.8 L1053.2,182.5 Z" fill="#0070c0"/>
<path d="M1076.7,190.1 L1068.9,182.4 L1068.9,186.1 L1045.25,186.1 L1045.25,194.1 L1068.9,194.1 L1068.9,197.79999999999998 Z" fill="#fff" fill-opacity="0.4" stroke="#fff" stroke-opacity="0.4" stroke-width="3" stroke-linejoin="round"/>
<path d="M1076.7,190.1 L1068.9,182.4 L1068.9,186.1 L1045.25,186.1 L1045.25,194.1 L1068.9,194.1 L1068.9,197.79999999999998 Z" fill="#0070c0"/>
<path d="M1076.7,221.9 L1068.9,214.20000000000002 L1068.9,217.9 L1045.25,217.9 L1045.25,225.9 L1068.9,225.9 L1068.9,229.6 Z" fill="#fff" fill-opacity="0.4" stroke="#fff" stroke-opacity="0.4" stroke-width="3" stroke-linejoin="round"/>
<path d="M1076.7,221.9 L1068.9,214.20000000000002 L1068.9,217.9 L1045.25,217.9 L1045.25,225.9 L1068.9,225.9 L1068.9,229.6 Z" fill="#ff0000"/>
<path d="M1045.4,236.6 L1053.2,228.9 L1053.2,232.6 L1076.8,232.6 L1076.8,240.6 L1053.2,240.6 L1053.2,244.29999999999998 Z" fill="#fff" fill-opacity="0.4" stroke="#fff" stroke-opacity="0.4" stroke-width="3" stroke-linejoin="round"/>
<path d="M1045.4,236.6 L1053.2,228.9 L1053.2,232.6 L1076.8,232.6 L1076.8,240.6 L1053.2,240.6 L1053.2,244.29999999999998 Z" fill="#ff0000"/>
<path d="M1124,173.5 L1131.8,165.8 L1131.8,169.5 L1155.4,169.5 L1155.4,177.5 L1131.8,177.5 L1131.8,181.2 Z" fill="#fff" fill-opacity="0.4" stroke="#fff" stroke-opacity="0.4" stroke-width="3" stroke-linejoin="round"/>
<path d="M1124,173.5 L1131.8,165.8 L1131.8,169.5 L1155.4,169.5 L1155.4,177.5 L1131.8,177.5 L1131.8,181.2 Z" fill="#0070c0"/>
<path d="M1155.4,188.8 L1147.6000000000001,181.10000000000002 L1147.6000000000001,184.8 L1123.75,184.8 L1123.75,192.8 L1147.6000000000001,192.8 L1147.6000000000001,196.5 Z" fill="#fff" fill-opacity="0.4" stroke="#fff" stroke-opacity="0.4" stroke-width="3" stroke-linejoin="round"/>
<path d="M1155.4,188.8 L1147.6000000000001,181.10000000000002 L1147.6000000000001,184.8 L1123.75,184.8 L1123.75,192.8 L1147.6000000000001,192.8 L1147.6000000000001,196.5 Z" fill="#0070c0"/>
<path d="M1155.4,221.3 L1147.6000000000001,213.60000000000002 L1147.6000000000001,217.3 L1123.75,217.3 L1123.75,225.3 L1147.6000000000001,225.3 L1147.6000000000001,229.0 Z" fill="#fff" fill-opacity="0.4" stroke="#fff" stroke-opacity="0.4" stroke-width="3" stroke-linejoin="round"/>
<path d="M1155.4,221.3 L1147.6000000000001,213.60000000000002 L1147.6000000000001,217.3 L1123.75,217.3 L1123.75,225.3 L1147.6000000000001,225.3 L1147.6000000000001,229.0 Z" fill="#ff0000"/>
<path d="M1124,235.9 L1131.8,228.20000000000002 L1131.8,231.9 L1155.4,231.9 L1155.4,239.9 L1131.8,239.9 L1131.8,243.6 Z" fill="#fff" fill-opacity="0.4" stroke="#fff" stroke-opacity="0.4" stroke-width="3" stroke-linejoin="round"/>
<path d="M1124,235.9 L1131.8,228.20000000000002 L1131.8,231.9 L1155.4,231.9 L1155.4,239.9 L1131.8,239.9 L1131.8,243.6 Z" fill="#ff0000"/>
<text x="729.8" y="30.7" font-size="42" font-weight="bold" font-family="Liberation Sans, sans-serif">b</text>
<text x="784.5" y="39.6" font-size="30" font-style="italic" font-family="Liberation Sans, sans-serif">I</text>
<text x="792.5" y="48" font-size="20.5" font-family="Liberation Sans, sans-serif">ph</text>
<text x="1024.1" y="81.9" font-size="28.9" font-family="Liberation Sans, sans-serif">GB (Type II)</text>
<text x="919.5" y="279.8" font-size="29.3" font-family="Liberation Sans, sans-serif">Grain</text>
<text x="1192.8" y="279.8" font-size="29.3" font-family="Liberation Sans, sans-serif">Grain</text>
<text x="1020" y="337.3" font-size="29.3" font-family="Liberation Sans, sans-serif">Lateral position</text>
<text x="-1.7" y="423.5" font-size="42" font-weight="bold" font-family="Liberation Sans, sans-serif">c</text>
<text x="730" y="423.4" font-size="42" font-weight="bold" font-family="Liberation Sans, sans-serif">d</text>
<path d="M100.4,563.4 L104.9,565.0 L126.2,565.0 L127.7,567.0 L136.6,567.3 L146.5,567.6 L148.5,564.2 L149.0,556.2 L150.4,545.3 L151.4,531.5 L153.4,526.5 L156.4,526.5 L157.4,533.5 L158.9,543.4 L161.3,551.0 L164.3,548.3 L168.3,545.3 L172.2,543.9 L177.2,542.9 L188.1,542.4 L191.0,540.6 L194.0,540.9 L199.0,544.4 L205.9,541.9 L211.8,544.2 L217.8,543.9 L222.7,540.9 L230.0,540.9 L238.9,541.2 L244.9,544.6 L253.0,540.6 L259.7,543.9 L267.9,545.6 L274.6,543.6 L280.5,545.4 L289.4,548.3 L296.8,550.5 L302.8,552.8 L310.9,552.0 L313.9,546.8 L315.4,536.4 L316.9,517.1 L318.4,500.8 L320.6,505.2 L322.1,521.6 L323.6,536.4 L325.1,542.4 L329.5,539.4 L336.9,535.7 L344.4,534.2 L348.8,532.0 L356.2,532.7 L363.7,530.8 L374.1,530.5 L378.5,532.3 L386.0,533.8 L393.4,532.0 L400.8,533.5 L408.2,532.0 L415.7,532.0 L421.6,535.7 L427.5,534.7 L433.5,538.7 L435.9,539.4 L444.9,540.2 L450.8,545.4 L456.7,550.5 L463.4,552.0 L465.6,545.4 L467.9,524.6 L470.1,511.2 L472.3,518.6 L474.6,539.4 L476.8,557.2 L480.5,562.4 L486.4,561.7 L495.3,562.4 L504.3,561.4 L517.6,559.5 L531.0,560.9 L538.4,563.2 L545.8,565.8 L550.3,569.1 L557.7,569.9 L560.7,566.1 L562.9,546.8 L565.2,535.7 L567.4,542.4 L569.6,555.7 L572.6,558.0 L578.5,557.2 L584.5,554.3 L593.4,554.3 L600.8,555.0 L609.7,557.2 L615.7,555.0 L621.6,552.8 L625.3,554.3" fill="none" stroke="#000" stroke-width="3.7" stroke-linejoin="round"/>
<path d="M148.5,564.2 L149.0,556.2 M149.0,556.2 L150.4,545.3 M150.4,545.3 L151.4,531.5 M156.4,526.5 L157.4,533.5 M157.4,533.5 L158.9,543.4 M158.9,543.4 L161.3,551.0 M313.9,546.8 L315.4,536.4 M315.4,536.4 L316.9,517.1 M316.9,517.1 L318.4,500.8 M320.6,505.2 L322.1,521.6 M322.1,521.6 L323.6,536.4 M323.6,536.4 L325.1,542.4 M463.4,552.0 L465.6,545.4 M465.6,545.4 L467.9,524.6 M467.9,524.6 L470.1,511.2 M470.1,511.2 L472.3,518.6 M472.3,518.6 L474.6,539.4 M474.6,539.4 L476.8,557.2 M560.7,566.1 L562.9,546.8 M562.9,546.8 L565.2,535.7 M565.2,535.7 L567.4,542.4 M567.4,542.4 L569.6,555.7" fill="none" stroke="#000" stroke-width="5" stroke-linecap="round"/>
<rect x="99.7" y="467.0" width="529.6" height="141.7" fill="none" stroke="#000" stroke-width="2.8"/>
<line x1="89.9" y1="608.7" x2="99.7" y2="608.7" stroke="#000" stroke-width="2.6"/>
<text x="78.7" y="617.6" text-anchor="end" font-size="29.6" font-family="Liberation Sans, sans-serif">0</text>
<line x1="89.9" y1="573.3" x2="99.7" y2="573.3" stroke="#000" stroke-width="2.6"/>
<text x="78.7" y="582.2" text-anchor="end" font-size="29.6" font-family="Liberation Sans, sans-serif">4</text>
<line x1="89.9" y1="537.9" x2="99.7" y2="537.9" stroke="#000" stroke-width="2.6"/>
<text x="78.7" y="546.8" text-anchor="end" font-size="29.6" font-family="Liberation Sans, sans-serif">8</text>
<line x1="89.9" y1="502.4" x2="99.7" y2="502.4" stroke="#000" stroke-width="2.6"/>
<text x="78.7" y="511.3" text-anchor="end" font-size="29.6" font-family="Liberation Sans, sans-serif">12</text>
<line x1="89.9" y1="467.0" x2="99.7" y2="467.0" stroke="#000" stroke-width="2.6"/>
<text x="78.7" y="475.9" text-anchor="end" font-size="29.6" font-family="Liberation Sans, sans-serif">16</text>
<line x1="94.9" y1="591.0" x2="99.7" y2="591.0" stroke="#000" stroke-width="2.6"/>
<line x1="94.9" y1="555.6" x2="99.7" y2="555.6" stroke="#000" stroke-width="2.6"/>
<line x1="94.9" y1="520.1" x2="99.7" y2="520.1" stroke="#000" stroke-width="2.6"/>
<line x1="94.9" y1="484.7" x2="99.7" y2="484.7" stroke="#000" stroke-width="2.6"/>
<line x1="99.7" y1="608.7" x2="99.7" y2="618.5" stroke="#000" stroke-width="2.6"/>
<line x1="152.7" y1="608.7" x2="152.7" y2="614.1" stroke="#000" stroke-width="2.6"/>
<line x1="205.6" y1="608.7" x2="205.6" y2="618.5" stroke="#000" stroke-width="2.6"/>
<line x1="258.6" y1="608.7" x2="258.6" y2="614.1" stroke="#000" stroke-width="2.6"/>
<line x1="311.5" y1="608.7" x2="311.5" y2="618.5" stroke="#000" stroke-width="2.6"/>
<line x1="364.5" y1="608.7" x2="364.5" y2="614.1" stroke="#000" stroke-width="2.6"/>
<line x1="417.5" y1="608.7" x2="417.5" y2="618.5" stroke="#000" stroke-width="2.6"/>
<line x1="470.4" y1="608.7" x2="470.4" y2="614.1" stroke="#000" stroke-width="2.6"/>
<line x1="523.4" y1="608.7" x2="523.4" y2="618.5" stroke="#000" stroke-width="2.6"/>
<line x1="576.3" y1="608.7" x2="576.3" y2="614.1" stroke="#000" stroke-width="2.6"/>
<line x1="629.3" y1="608.7" x2="629.3" y2="618.5" stroke="#000" stroke-width="2.6"/>
<text x="618.9" y="494.8" text-anchor="end" font-size="29.3" font-family="Liberation Sans, sans-serif">1.1 V</text>
<path d="M100.9,743.9 L105.4,743.9 L109.1,747.6 L112.1,745.1 L124.7,745.1 L128.4,747.1 L134.4,747.1 L139.6,749.8 L144.8,752.8 L149.2,752.5 L152.9,752.0 L154.4,742.4 L156.6,730.5 L159.2,726.0 L161.1,735.0 L162.6,745.4 L164.5,752.8 L170.7,745.4 L175.9,741.6 L182.6,741.6 L189.3,738.7 L193.0,740.2 L200.5,740.2 L201.9,738.7 L213.8,738.7 L219.8,735.7 L225.7,738.2 L234.6,740.9 L238.3,738.7 L243.5,740.9 L248.0,738.7 L253.9,735.0 L259.1,737.9 L263.6,734.7 L268.0,733.2 L279.2,733.2 L281.4,736.4 L286.6,732.0 L294.0,740.2 L301.4,742.4 L304.5,742.8 L308.2,746.5 L313.4,744.3 L314.4,727.9 L316.0,711.6 L318.6,694.5 L320.8,698.2 L322.3,714.6 L322.3,730.2 L324.5,734.6 L331.2,728.7 L336.4,730.9 L342.3,725.7 L346.0,723.5 L353.5,724.2 L358.7,719.8 L369.1,719.0 L375.7,721.2 L380.9,716.8 L386.1,721.2 L392.8,721.7 L398.0,725.0 L404.0,719.8 L406.9,718.3 L411.4,722.3 L415.1,719.8 L418.8,722.0 L425.5,715.3 L432.2,717.5 L438.1,723.5 L446.3,724.7 L454.5,731.6 L463.4,739.1 L467.1,736.1 L468.6,725.0 L470.5,712.3 L472.3,719.0 L473.8,732.4 L476.0,749.5 L478.2,750.2 L490.1,749.9 L493.1,747.2 L499.8,746.5 L502.7,749.5 L515.8,749.3 L518.8,747.3 L523.8,748.3 L529.7,750.8 L537.6,751.1 L544.6,754.3 L550.5,756.2 L555.9,758.7 L558.9,755.2 L559.9,747.3 L560.9,737.4 L562.4,729.0 L564.4,733.5 L565.8,740.4 L568.3,750.3 L571.3,748.3 L577.2,748.3 L584.2,745.3 L593.1,744.4 L600.0,740.9 L604.0,743.4 L607.9,741.9 L612.9,741.4 L617.8,740.4 L623.8,744.4 L628.2,745.3" fill="none" stroke="#000" stroke-width="3.7" stroke-linejoin="round"/>
<path d="M152.9,752.0 L154.4,742.4 M154.4,742.4 L156.6,730.5 M159.2,726.0 L161.1,735.0 M161.1,735.0 L162.6,745.4 M162.6,745.4 L164.5,752.8 M313.4,744.3 L314.4,727.9 M314.4,727.9 L316.0,711.6 M316.0,711.6 L318.6,694.5 M320.8,698.2 L322.3,714.6 M322.3,714.6 L322.3,730.2 M467.1,736.1 L468.6,725.0 M468.6,725.0 L470.5,712.3 M470.5,712.3 L472.3,719.0 M472.3,719.0 L473.8,732.4 M473.8,732.4 L476.0,749.5 M558.9,755.2 L559.9,747.3 M559.9,747.3 L560.9,737.4 M560.9,737.4 L562.4,729.0 M564.4,733.5 L565.8,740.4 M565.8,740.4 L568.3,750.3" fill="none" stroke="#000" stroke-width="5" stroke-linecap="round"/>
<rect x="99.7" y="655.9" width="529.6" height="141.8" fill="none" stroke="#000" stroke-width="2.8"/>
<line x1="89.9" y1="797.7" x2="99.7" y2="797.7" stroke="#000" stroke-width="2.6"/>
<text x="78.7" y="806.6" text-anchor="end" font-size="29.6" font-family="Liberation Sans, sans-serif">0</text>
<line x1="89.9" y1="750.4" x2="99.7" y2="750.4" stroke="#000" stroke-width="2.6"/>
<text x="78.7" y="759.3" text-anchor="end" font-size="29.6" font-family="Liberation Sans, sans-serif">4</text>
<line x1="89.9" y1="703.2" x2="99.7" y2="703.2" stroke="#000" stroke-width="2.6"/>
<text x="78.7" y="712.1" text-anchor="end" font-size="29.6" font-family="Liberation Sans, sans-serif">8</text>
<line x1="89.9" y1="655.9" x2="99.7" y2="655.9" stroke="#000" stroke-width="2.6"/>
<text x="78.7" y="664.8" text-anchor="end" font-size="29.6" font-family="Liberation Sans, sans-serif">12</text>
<line x1="94.9" y1="774.1" x2="99.7" y2="774.1" stroke="#000" stroke-width="2.6"/>
<line x1="94.9" y1="726.8" x2="99.7" y2="726.8" stroke="#000" stroke-width="2.6"/>
<line x1="94.9" y1="679.5" x2="99.7" y2="679.5" stroke="#000" stroke-width="2.6"/>
<line x1="99.7" y1="797.7" x2="99.7" y2="807.5" stroke="#000" stroke-width="2.6"/>
<line x1="152.7" y1="797.7" x2="152.7" y2="803.1" stroke="#000" stroke-width="2.6"/>
<line x1="205.6" y1="797.7" x2="205.6" y2="807.5" stroke="#000" stroke-width="2.6"/>
<line x1="258.6" y1="797.7" x2="258.6" y2="803.1" stroke="#000" stroke-width="2.6"/>
<line x1="311.5" y1="797.7" x2="311.5" y2="807.5" stroke="#000" stroke-width="2.6"/>
<line x1="364.5" y1="797.7" x2="364.5" y2="803.1" stroke="#000" stroke-width="2.6"/>
<line x1="417.5" y1="797.7" x2="417.5" y2="807.5" stroke="#000" stroke-width="2.6"/>
<line x1="470.4" y1="797.7" x2="470.4" y2="803.1" stroke="#000" stroke-width="2.6"/>
<line x1="523.4" y1="797.7" x2="523.4" y2="807.5" stroke="#000" stroke-width="2.6"/>
<line x1="576.3" y1="797.7" x2="576.3" y2="803.1" stroke="#000" stroke-width="2.6"/>
<line x1="629.3" y1="797.7" x2="629.3" y2="807.5" stroke="#000" stroke-width="2.6"/>
<text x="619.2" y="689.3" text-anchor="end" font-size="29.3" font-family="Liberation Sans, sans-serif">0.8 V</text>
<path d="M100.9,910.1 L104.7,912.3 L108.4,911.6 L111.3,908.9 L116.5,911.9 L123.2,912.3 L126.9,914.1 L130.6,915.3 L135.1,915.3 L138.1,913.8 L141.0,916.8 L157.4,916.8 L159.6,913.1 L160.4,905.6 L162.6,903.4 L164.1,909.4 L166.3,917.5 L167.8,933.1 L170.7,934.6 L175.9,930.9 L181.1,927.2 L187.1,926.7 L190.1,925.0 L194.5,923.5 L200.5,927.9 L204.9,925.7 L221.2,925.7 L222.7,927.2 L230.2,922.7 L235.4,925.3 L242.0,922.7 L246.5,920.5 L251.0,922.3 L255.4,920.5 L259.9,917.8 L264.3,919.8 L267.3,917.8 L276.2,916.3 L280.3,918.3 L286.6,919.8 L292.5,923.5 L300.0,923.8 L307.4,923.8 L310.4,921.2 L315.6,926.4 L319.3,922.7 L320.0,907.1 L322.0,894.5 L323.8,899.7 L324.5,914.6 L329.0,919.8 L336.4,912.3 L347.5,912.3 L351.2,909.4 L356.4,913.8 L363.9,911.6 L366.1,907.9 L369.8,909.8 L375.0,907.1 L382.4,907.9 L386.9,913.8 L395.1,913.8 L402.5,905.6 L406.2,903.4 L409.9,907.9 L414.4,903.4 L418.8,904.9 L422.5,901.9 L429.2,903.4 L438.1,907.9 L445.6,904.2 L453.0,905.6 L458.9,910.8 L464.9,913.1 L469.3,916.8 L473.0,910.8 L474.5,919.0 L476.0,932.4 L479.7,936.8 L487.1,935.1 L493.1,932.4 L502.0,930.2 L503.0,929.3 L512.9,929.3 L514.9,927.5 L520.8,927.5 L522.8,926.0 L546.5,926.0 L549.5,928.0 L554.5,929.5 L559.4,934.0 L562.9,932.5 L563.4,927.0 L565.3,925.0 L568.3,928.5 L571.8,935.4 L575.2,932.5 L581.2,930.0 L586.1,927.5 L591.1,926.5 L598.0,930.0 L600.0,928.0 L605.9,928.0 L608.9,930.0 L613.9,926.5 L619.8,926.0 L623.8,923.6 L628.2,922.1" fill="none" stroke="#000" stroke-width="3.7" stroke-linejoin="round"/>
<path d="M159.6,913.1 L160.4,905.6 M162.6,903.4 L164.1,909.4 M164.1,909.4 L166.3,917.5 M166.3,917.5 L167.8,933.1 M319.3,922.7 L320.0,907.1 M320.0,907.1 L322.0,894.5 M322.0,894.5 L323.8,899.7 M323.8,899.7 L324.5,914.6 M473.0,910.8 L474.5,919.0 M474.5,919.0 L476.0,932.4 M562.9,932.5 L563.4,927.0" fill="none" stroke="#000" stroke-width="5" stroke-linecap="round"/>
<rect x="99.7" y="845.0" width="529.6" height="141.8" fill="none" stroke="#000" stroke-width="2.8"/>
<line x1="89.9" y1="986.8" x2="99.7" y2="986.8" stroke="#000" stroke-width="2.6"/>
<text x="78.7" y="995.7" text-anchor="end" font-size="29.6" font-family="Liberation Sans, sans-serif">0</text>
<line x1="89.9" y1="915.9" x2="99.7" y2="915.9" stroke="#000" stroke-width="2.6"/>
<text x="78.7" y="924.8" text-anchor="end" font-size="29.6" font-family="Liberation Sans, sans-serif">4</text>
<line x1="89.9" y1="845.0" x2="99.7" y2="845.0" stroke="#000" stroke-width="2.6"/>
<text x="78.7" y="853.9" text-anchor="end" font-size="29.6" font-family="Liberation Sans, sans-serif">8</text>
<line x1="94.9" y1="951.3" x2="99.7" y2="951.3" stroke="#000" stroke-width="2.6"/>
<line x1="94.9" y1="880.5" x2="99.7" y2="880.5" stroke="#000" stroke-width="2.6"/>
<line x1="99.7" y1="986.8" x2="99.7" y2="996.5999999999999" stroke="#000" stroke-width="2.6"/>
<line x1="152.7" y1="986.8" x2="152.7" y2="992.1999999999999" stroke="#000" stroke-width="2.6"/>
<line x1="205.6" y1="986.8" x2="205.6" y2="996.5999999999999" stroke="#000" stroke-width="2.6"/>
<line x1="258.6" y1="986.8" x2="258.6" y2="992.1999999999999" stroke="#000" stroke-width="2.6"/>
<line x1="311.5" y1="986.8" x2="311.5" y2="996.5999999999999" stroke="#000" stroke-width="2.6"/>
<line x1="364.5" y1="986.8" x2="364.5" y2="992.1999999999999" stroke="#000" stroke-width="2.6"/>
<line x1="417.5" y1="986.8" x2="417.5" y2="996.5999999999999" stroke="#000" stroke-width="2.6"/>
<line x1="470.4" y1="986.8" x2="470.4" y2="992.1999999999999" stroke="#000" stroke-width="2.6"/>
<line x1="523.4" y1="986.8" x2="523.4" y2="996.5999999999999" stroke="#000" stroke-width="2.6"/>
<line x1="576.3" y1="986.8" x2="576.3" y2="992.1999999999999" stroke="#000" stroke-width="2.6"/>
<line x1="629.3" y1="986.8" x2="629.3" y2="996.5999999999999" stroke="#000" stroke-width="2.6"/>
<text x="619.2" y="878.2" text-anchor="end" font-size="29.3" font-family="Liberation Sans, sans-serif">0.6 V</text>
<path d="M830.9,559.0 L834.7,560.4 L839.1,561.9 L844.3,559.0 L850.2,557.0 L857.7,558.5 L862.1,560.4 L867.3,563.4 L874.0,561.5 L881.4,562.7 L885.9,564.2 L892.6,569.4 L897.8,565.6 L902.2,563.0 L911.1,561.5 L918.6,563.0 L927.5,565.9 L937.9,565.9 L945.3,563.0 L954.2,561.5 L961.6,562.7 L967.6,565.6 L972.8,567.9 L979.5,564.9 L988.4,563.0 L997.3,564.9 L1003.2,565.6 L1009.2,566.4 L1016.6,563.9 L1025.5,561.5 L1030.0,563.0 L1034.5,565.3 L1042.6,559.7 L1049.3,563.0 L1064.2,563.0 L1067.1,561.2 L1073.1,561.5 L1077.5,563.4 L1083.5,561.5 L1098.3,561.5 L1104.3,563.9 L1113.2,566.4 L1120.6,563.0 L1128.0,561.2 L1141.4,561.2 L1148.8,565.9 L1160.7,565.9 L1166.6,567.9 L1172.6,565.9 L1184.5,563.0 L1190.4,564.9 L1202.3,564.9 L1209.7,567.9 L1229.0,567.9 L1235.0,570.2 L1241.9,570.5 L1245.8,572.2 L1249.8,570.7 L1255.7,567.2 L1259.7,569.2 L1268.6,569.2 L1270.6,567.7 L1285.4,567.7 L1289.4,569.7 L1299.8,560.3 L1305.2,562.8 L1309.2,565.9 L1315.1,567.7 L1319.1,565.7 L1325.5,564.3 L1330.0,565.7 L1334.0,567.5 L1338.9,568.7 L1346.8,569.5 L1350.8,571.2 L1357.7,572.2 L1362.2,574.2" fill="none" stroke="#000" stroke-width="3.7" stroke-linejoin="round"/>
<rect x="830.7" y="465.3" width="533.8" height="142.0" fill="none" stroke="#000" stroke-width="2.8"/>
<line x1="822.0" y1="607.3" x2="830.7" y2="607.3" stroke="#000" stroke-width="2.6"/>
<text x="810.3" y="616.2" text-anchor="end" font-size="29.6" font-family="Liberation Sans, sans-serif">0</text>
<line x1="822.0" y1="571.8" x2="830.7" y2="571.8" stroke="#000" stroke-width="2.6"/>
<text x="810.3" y="580.7" text-anchor="end" font-size="29.6" font-family="Liberation Sans, sans-serif">4</text>
<line x1="822.0" y1="536.3" x2="830.7" y2="536.3" stroke="#000" stroke-width="2.6"/>
<text x="810.3" y="545.2" text-anchor="end" font-size="29.6" font-family="Liberation Sans, sans-serif">8</text>
<line x1="822.0" y1="500.8" x2="830.7" y2="500.8" stroke="#000" stroke-width="2.6"/>
<text x="810.3" y="509.7" text-anchor="end" font-size="29.6" font-family="Liberation Sans, sans-serif">12</text>
<line x1="822.0" y1="465.3" x2="830.7" y2="465.3" stroke="#000" stroke-width="2.6"/>
<text x="810.3" y="474.2" text-anchor="end" font-size="29.6" font-family="Liberation Sans, sans-serif">16</text>
<line x1="825.9" y1="589.5" x2="830.7" y2="589.5" stroke="#000" stroke-width="2.6"/>
<line x1="825.9" y1="554.0" x2="830.7" y2="554.0" stroke="#000" stroke-width="2.6"/>
<line x1="825.9" y1="518.5" x2="830.7" y2="518.5" stroke="#000" stroke-width="2.6"/>
<line x1="825.9" y1="483.1" x2="830.7" y2="483.1" stroke="#000" stroke-width="2.6"/>
<line x1="830.7" y1="607.3" x2="830.7" y2="617.0999999999999" stroke="#000" stroke-width="2.6"/>
<line x1="919.7" y1="607.3" x2="919.7" y2="612.6999999999999" stroke="#000" stroke-width="2.6"/>
<line x1="1008.6" y1="607.3" x2="1008.6" y2="617.0999999999999" stroke="#000" stroke-width="2.6"/>
<line x1="1097.6" y1="607.3" x2="1097.6" y2="612.6999999999999" stroke="#000" stroke-width="2.6"/>
<line x1="1186.6" y1="607.3" x2="1186.6" y2="617.0999999999999" stroke="#000" stroke-width="2.6"/>
<line x1="1275.5" y1="607.3" x2="1275.5" y2="612.6999999999999" stroke="#000" stroke-width="2.6"/>
<line x1="1364.5" y1="607.3" x2="1364.5" y2="617.0999999999999" stroke="#000" stroke-width="2.6"/>
<text x="1357.1" y="499.2" text-anchor="end" font-size="29.3" font-family="Liberation Sans, sans-serif">1.1 V</text>
<path d="M830.9,749.0 L836.1,751.2 L844.3,751.2 L846.5,749.7 L866.6,749.7 L874.0,746.7 L887.4,746.7 L893.3,748.2 L900.7,751.2 L909.7,753.0 L917.8,754.2 L926.0,751.5 L940.8,751.5 L945.3,753.0 L951.2,751.2 L958.7,751.5 L964.6,753.0 L972.0,751.2 L979.5,749.4 L985.4,749.7 L989.9,751.5 L997.3,753.0 L1007.7,747.9 L1015.1,746.7 L1022.5,745.0 L1028.5,745.5 L1030.0,746.7 L1037.4,746.7 L1043.4,744.5 L1050.8,742.0 L1059.7,746.4 L1080.5,746.4 L1083.5,745.2 L1108.7,745.2 L1110.9,743.5 L1125.1,743.0 L1134.0,742.0 L1136.9,743.5 L1147.3,744.5 L1157.7,749.7 L1166.6,749.7 L1177.0,745.2 L1183.0,743.5 L1202.3,743.5 L1209.0,746.7 L1230.0,746.3 L1241.9,746.3 L1243.9,748.3 L1267.6,748.3 L1270.6,746.3 L1276.5,746.3 L1279.5,744.3 L1285.4,744.3 L1288.4,742.8 L1294.4,742.8 L1298.3,741.3 L1301.3,741.6 L1305.2,743.8 L1311.2,744.3 L1316.1,746.8 L1319.1,745.3 L1325.0,742.8 L1329.0,744.3 L1334.0,746.8 L1337.9,744.8 L1342.9,743.3 L1352.8,743.3 L1356.7,746.8 L1361.7,749.6" fill="none" stroke="#000" stroke-width="3.7" stroke-linejoin="round"/>
<rect x="830.7" y="654.6" width="533.8" height="141.6" fill="none" stroke="#000" stroke-width="2.8"/>
<line x1="822.0" y1="796.2" x2="830.7" y2="796.2" stroke="#000" stroke-width="2.6"/>
<text x="810.3" y="805.1" text-anchor="end" font-size="29.6" font-family="Liberation Sans, sans-serif">0</text>
<line x1="822.0" y1="749.0" x2="830.7" y2="749.0" stroke="#000" stroke-width="2.6"/>
<text x="810.3" y="757.9" text-anchor="end" font-size="29.6" font-family="Liberation Sans, sans-serif">4</text>
<line x1="822.0" y1="701.8" x2="830.7" y2="701.8" stroke="#000" stroke-width="2.6"/>
<text x="810.3" y="710.7" text-anchor="end" font-size="29.6" font-family="Liberation Sans, sans-serif">8</text>
<line x1="822.0" y1="654.6" x2="830.7" y2="654.6" stroke="#000" stroke-width="2.6"/>
<text x="810.3" y="663.5" text-anchor="end" font-size="29.6" font-family="Liberation Sans, sans-serif">12</text>
<line x1="825.9" y1="772.6" x2="830.7" y2="772.6" stroke="#000" stroke-width="2.6"/>
<line x1="825.9" y1="725.4" x2="830.7" y2="725.4" stroke="#000" stroke-width="2.6"/>
<line x1="825.9" y1="678.2" x2="830.7" y2="678.2" stroke="#000" stroke-width="2.6"/>
<line x1="830.7" y1="796.2" x2="830.7" y2="806.0" stroke="#000" stroke-width="2.6"/>
<line x1="919.7" y1="796.2" x2="919.7" y2="801.6" stroke="#000" stroke-width="2.6"/>
<line x1="1008.6" y1="796.2" x2="1008.6" y2="806.0" stroke="#000" stroke-width="2.6"/>
<line x1="1097.6" y1="796.2" x2="1097.6" y2="801.6" stroke="#000" stroke-width="2.6"/>
<line x1="1186.6" y1="796.2" x2="1186.6" y2="806.0" stroke="#000" stroke-width="2.6"/>
<line x1="1275.5" y1="796.2" x2="1275.5" y2="801.6" stroke="#000" stroke-width="2.6"/>
<line x1="1364.5" y1="796.2" x2="1364.5" y2="806.0" stroke="#000" stroke-width="2.6"/>
<text x="1356.5" y="693.8" text-anchor="end" font-size="29.3" font-family="Liberation Sans, sans-serif">0.8 V</text>
<path d="M830.9,932.5 L836.9,931.4 L843.6,931.4 L846.5,932.9 L860.6,932.9 L866.6,931.0 L874.0,927.3 L882.9,925.0 L890.3,928.0 L899.3,930.2 L921.5,930.2 L926.0,931.7 L949.8,931.7 L954.2,929.5 L964.6,928.0 L972.0,929.5 L979.5,932.5 L988.4,934.4 L995.8,932.9 L1013.6,931.4 L1018.1,931.7 L1025.5,934.4 L1031.4,931.7 L1038.9,929.5 L1046.3,929.5 L1047.8,931.4 L1055.2,931.4 L1057.5,932.9 L1064.2,932.9 L1070.1,931.0 L1078.3,923.6 L1085.0,927.0 L1090.9,928.0 L1093.9,930.0 L1126.5,930.0 L1128.0,928.0 L1140.6,928.0 L1148.8,934.7 L1156.2,930.2 L1165.2,928.0 L1169.6,928.8 L1178.5,932.5 L1191.9,935.4 L1200.8,932.5 L1212.7,936.9 L1221.6,935.4 L1229.0,934.0 L1235.0,931.6 L1241.9,931.3 L1244.9,933.0 L1248.8,932.3 L1254.8,929.3 L1258.7,931.3 L1263.7,935.5 L1304.3,935.5 L1309.2,933.8 L1313.2,931.8 L1319.1,929.3 L1324.1,931.0 L1329.0,932.0 L1333.0,934.3 L1346.8,934.3 L1348.8,935.9 L1355.7,935.9 L1357.7,934.0 L1362.7,934.0" fill="none" stroke="#000" stroke-width="3.7" stroke-linejoin="round"/>
<rect x="830.7" y="845.0" width="533.8" height="141.6" fill="none" stroke="#000" stroke-width="2.8"/>
<line x1="822.0" y1="986.6" x2="830.7" y2="986.6" stroke="#000" stroke-width="2.6"/>
<text x="810.3" y="995.5" text-anchor="end" font-size="29.6" font-family="Liberation Sans, sans-serif">0</text>
<line x1="822.0" y1="915.8" x2="830.7" y2="915.8" stroke="#000" stroke-width="2.6"/>
<text x="810.3" y="924.7" text-anchor="end" font-size="29.6" font-family="Liberation Sans, sans-serif">4</text>
<line x1="822.0" y1="845.0" x2="830.7" y2="845.0" stroke="#000" stroke-width="2.6"/>
<text x="810.3" y="853.9" text-anchor="end" font-size="29.6" font-family="Liberation Sans, sans-serif">8</text>
<line x1="825.9" y1="951.2" x2="830.7" y2="951.2" stroke="#000" stroke-width="2.6"/>
<line x1="825.9" y1="880.4" x2="830.7" y2="880.4" stroke="#000" stroke-width="2.6"/>
<line x1="830.7" y1="986.6" x2="830.7" y2="996.4" stroke="#000" stroke-width="2.6"/>
<line x1="919.7" y1="986.6" x2="919.7" y2="992.0" stroke="#000" stroke-width="2.6"/>
<line x1="1008.6" y1="986.6" x2="1008.6" y2="996.4" stroke="#000" stroke-width="2.6"/>
<line x1="1097.6" y1="986.6" x2="1097.6" y2="992.0" stroke="#000" stroke-width="2.6"/>
<line x1="1186.6" y1="986.6" x2="1186.6" y2="996.4" stroke="#000" stroke-width="2.6"/>
<line x1="1275.5" y1="986.6" x2="1275.5" y2="992.0" stroke="#000" stroke-width="2.6"/>
<line x1="1364.5" y1="986.6" x2="1364.5" y2="996.4" stroke="#000" stroke-width="2.6"/>
<text x="1356.5" y="882.6" text-anchor="end" font-size="29.3" font-family="Liberation Sans, sans-serif">0.6 V</text>
<text x="99.8" y="1031.3" text-anchor="middle" font-size="29.3" font-family="Liberation Sans, sans-serif">0.0</text>
<text x="205.6" y="1031.3" text-anchor="middle" font-size="29.3" font-family="Liberation Sans, sans-serif">0.7</text>
<text x="311.5" y="1031.3" text-anchor="middle" font-size="29.3" font-family="Liberation Sans, sans-serif">1.4</text>
<text x="417.3" y="1031.3" text-anchor="middle" font-size="29.3" font-family="Liberation Sans, sans-serif">2.1</text>
<text x="523.2" y="1031.3" text-anchor="middle" font-size="29.3" font-family="Liberation Sans, sans-serif">2.8</text>
<text x="629.0" y="1031.3" text-anchor="middle" font-size="29.3" font-family="Liberation Sans, sans-serif">3.5</text>
<text x="830.6" y="1031.3" text-anchor="middle" font-size="29.3" font-family="Liberation Sans, sans-serif">0.0</text>
<text x="1008.5" y="1031.3" text-anchor="middle" font-size="29.3" font-family="Liberation Sans, sans-serif">0.4</text>
<text x="1186.5" y="1031.3" text-anchor="middle" font-size="29.3" font-family="Liberation Sans, sans-serif">0.8</text>
<text x="1364.4" y="1031.3" text-anchor="middle" font-size="29.3" font-family="Liberation Sans, sans-serif">1.2</text>
<text x="361" y="1074" text-anchor="middle" font-size="29.3" font-family="Liberation Sans, sans-serif">Position (mm)</text>
<text x="1094" y="1074" text-anchor="middle" font-size="29.3" font-family="Liberation Sans, sans-serif">Position (mm)</text>
<text transform="translate(23.9,721.1) rotate(-90)" text-anchor="middle" font-size="29.3" font-family="Liberation Sans, sans-serif"><tspan font-style="italic">I</tspan><tspan font-size="20.5" dy="8.3">ph</tspan><tspan dy="-8.3"> (nA)</tspan></text>
<text transform="translate(755,723.3) rotate(-90)" text-anchor="middle" font-size="29.3" font-family="Liberation Sans, sans-serif"><tspan font-style="italic">I</tspan><tspan font-size="20.5" dy="8.3">ph</tspan><tspan dy="-8.3"> (nA)</tspan></text>
<text x="279.6" y="428.1" font-size="29.0" font-family="Liberation Sans, sans-serif">GB (Type I)</text>
<text x="1014.1" y="427.8" font-size="29.0" font-family="Liberation Sans, sans-serif">GB (Type II)</text>
<ellipse cx="156" cy="534.7" rx="23.3" ry="61.1" fill="none" stroke="#000" stroke-width="2.5" stroke-dasharray="7.8,4"/>
<ellipse cx="319.9" cy="530.4" rx="23.3" ry="61.1" fill="none" stroke="#000" stroke-width="2.5" stroke-dasharray="7.8,4"/>
<ellipse cx="470.7" cy="534.6" rx="23.2" ry="60.9" fill="none" stroke="#000" stroke-width="2.5" stroke-dasharray="7.8,4"/>
<ellipse cx="567.9" cy="548.5" rx="23.2" ry="48.4" fill="none" stroke="#000" stroke-width="2.5" stroke-dasharray="7.8,4"/>
<line x1="385.6" y1="446.9" x2="354.5" y2="492.5" stroke="#222" stroke-width="1.5"/>
<path d="M343.9,506.2 L346.9,487.6 L361.4,497.2 Z" fill="#000"/>
<ellipse cx="1102.6" cy="551.7" rx="21.9" ry="46.4" fill="none" stroke="#ff00ff" stroke-width="3" stroke-dasharray="0.01,6" stroke-linecap="round"/>
<ellipse cx="1103.4" cy="739.4" rx="22.6" ry="46.7" fill="none" stroke="#ff00ff" stroke-width="3" stroke-dasharray="0.01,6" stroke-linecap="round"/>
<ellipse cx="1104.9" cy="924.6" rx="22.9" ry="47.3" fill="none" stroke="#ff00ff" stroke-width="3" stroke-dasharray="0.01,6" stroke-linecap="round"/>
<line x1="1047.1" y1="451" x2="1080" y2="490" stroke="#222" stroke-width="1.6"/>
<path d="M1090.6,503.2 L1073.2,495.6 L1086.6,484.1 Z" fill="#000"/>
</svg></body></html>
